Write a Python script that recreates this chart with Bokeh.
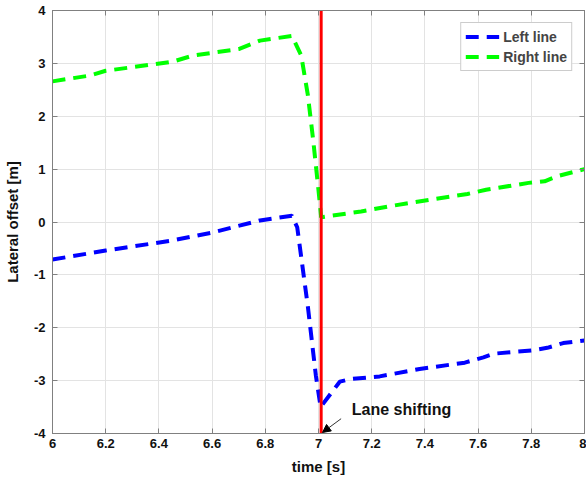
from bokeh.plotting import figure
from bokeh.models import LinearAxis, Range1d, Label, Arrow, NormalHead, Legend, LegendItem, FixedTicker
from bokeh.embed import file_html
from bokeh.resources import INLINE

# ---- data ----
left_t = [6.0, 6.2, 6.45, 6.6, 6.78, 6.9, 6.92, 6.96, 6.99, 7.008, 7.08, 7.12, 7.23, 7.38, 7.55, 7.62, 7.66, 7.8, 7.86, 7.92, 8.0]
left_y = [-0.71, -0.54, -0.35, -0.2, 0.03, 0.12, -0.1, -1.6, -2.9, -3.5, -3.02, -2.97, -2.92, -2.78, -2.66, -2.56, -2.49, -2.43, -2.38, -2.29, -2.24]

right_t = [6.0, 6.14, 6.2, 6.45, 6.53, 6.7, 6.78, 6.9, 6.935, 6.96, 6.98, 7.0, 7.01, 7.16, 7.27, 7.43, 7.56, 7.63, 7.79, 7.85, 7.9, 8.0]
right_y = [2.66, 2.77, 2.86, 3.03, 3.15, 3.27, 3.43, 3.52, 3.15, 2.4, 1.55, 0.6, 0.09, 0.2, 0.3, 0.43, 0.53, 0.61, 0.74, 0.77, 0.87, 1.0]

shift_t = [7.01, 7.01]
shift_y = [-4.0, 4.0]

x_ticks = [6, 6.2, 6.4, 6.6, 6.8, 7, 7.2, 7.4, 7.6, 7.8, 8]
x_tick_labels = ["6", "6.2", "6.4", "6.6", "6.8", "7", "7.2", "7.4", "7.6", "7.8", "8"]
y_ticks = [-4, -3, -2, -1, 0, 1, 2, 3, 4]
y_tick_labels = ["-4", "-3", "-2", "-1", "0", "1", "2", "3", "4"]

note_text = "Lane shifting"
note_pos = (7.125, -3.55)
arrow_start = (7.085, -3.72)
arrow_end = (7.015, -3.98)

FONT = "Liberation Sans"

p = figure(width=586, height=477, output_backend="svg", toolbar_location=None,
           x_range=Range1d(6, 8), y_range=Range1d(-4, 4),
           min_border_left=44, min_border_right=2, min_border_top=10, min_border_bottom=10)
p.outline_line_color = "#808080"
p.outline_line_width = 1
p.background_fill_color = "white"

for ax in (p.xaxis[0], p.yaxis[0]):
    ax.major_label_text_font = FONT
    ax.major_label_text_font_style = "bold"
    ax.major_label_text_font_size = "13px"
    ax.major_label_text_color = "#111111"
    ax.axis_label_text_font = FONT
    ax.axis_label_text_font_style = "bold"
    ax.axis_label_text_font_size = "15px"
    ax.axis_label_text_color = "#111111"
    ax.axis_line_color = "#808080"
    ax.major_tick_line_color = "#808080"
    ax.major_tick_in = 5
    ax.major_tick_out = 0
    ax.minor_tick_line_color = None

p.xaxis[0].ticker = FixedTicker(ticks=x_ticks)
p.xaxis[0].major_label_overrides = {t: l for t, l in zip(x_ticks, x_tick_labels)}
p.yaxis[0].ticker = FixedTicker(ticks=y_ticks)
p.yaxis[0].major_label_overrides = {t: l for t, l in zip(y_ticks, y_tick_labels)}
p.xaxis[0].axis_label = "time [s]"
p.yaxis[0].axis_label = "Lateral offset [m]"
p.xaxis[0].major_label_standoff = 5
p.yaxis[0].major_label_standoff = 7
p.xaxis[0].axis_label_standoff = 7
p.yaxis[0].axis_label_standoff = 10

# box ticks on top and right (no labels)
top = LinearAxis(ticker=FixedTicker(ticks=x_ticks),
                 major_label_overrides={t: "" for t in x_ticks},
                 axis_line_color="#808080", major_tick_line_color="#808080",
                 major_tick_in=5, major_tick_out=0, minor_tick_line_color=None,
                 major_label_standoff=0)
right = LinearAxis(ticker=FixedTicker(ticks=y_ticks),
                   major_label_overrides={t: "" for t in y_ticks},
                   axis_line_color="#808080", major_tick_line_color="#808080",
                   major_tick_in=5, major_tick_out=0, minor_tick_line_color=None,
                   major_label_standoff=0)
p.add_layout(top, "above")
p.add_layout(right, "right")

p.xgrid.ticker = FixedTicker(ticks=x_ticks)
p.ygrid.ticker = FixedTicker(ticks=y_ticks)
p.xgrid.grid_line_color = "#e3e3e3"
p.ygrid.grid_line_color = "#e3e3e3"

r_left = p.line(left_t, left_y, line_color="#0000ff", line_width=4, line_dash="13 8")
r_right = p.line(right_t, right_y, line_color="#00ff00", line_width=4, line_dash="13 8")
p.line(shift_t, shift_y, line_color="#ff0000", line_width=3)

p.add_layout(Label(x=note_pos[0], y=note_pos[1], text=note_text, text_font=FONT,
                   text_font_style="bold", text_font_size="16px", text_color="#111111",
                   text_baseline="middle", text_align="left"))
p.add_layout(Arrow(x_start=arrow_start[0], y_start=arrow_start[1], x_end=arrow_end[0], y_end=arrow_end[1],
                   line_color="#333333", line_width=1,
                   end=NormalHead(size=8, fill_color="black", line_color="black")))

legend = Legend(items=[LegendItem(label="Left line", renderers=[r_left]),
                       LegendItem(label="Right line", renderers=[r_right])],
                location="top_right")
legend.label_text_font = FONT
legend.label_text_font_style = "bold"
legend.label_text_font_size = "14px"
legend.border_line_color = "#999999"
legend.glyph_width = 34
legend.glyph_height = 19
legend.label_height = 19
legend.spacing = 1
legend.padding = 4
legend.margin = 12
legend.label_standoff = 4
p.add_layout(legend)

open("out.html", "w").write(file_html(p, INLINE))
